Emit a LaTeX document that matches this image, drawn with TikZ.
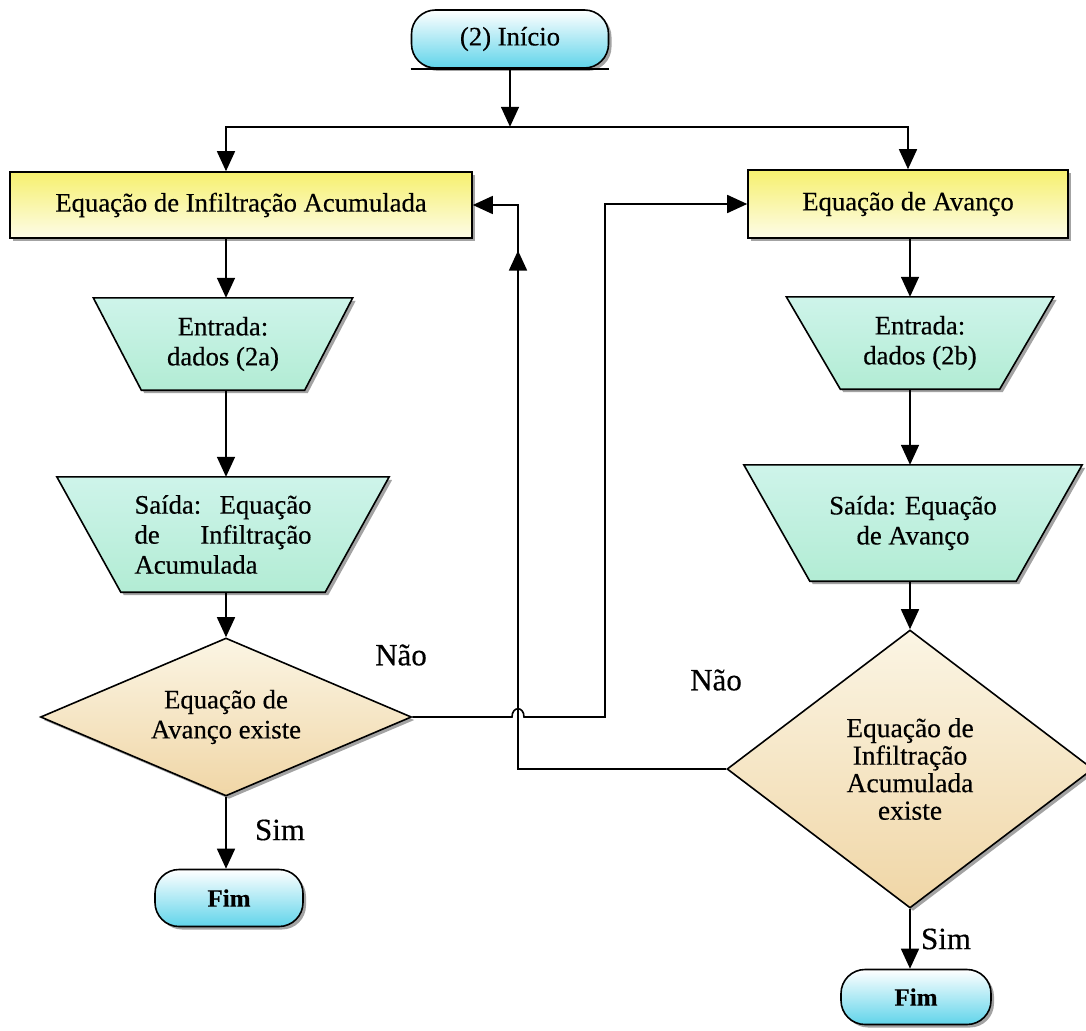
\documentclass[tikz,border=0pt]{standalone}
\usepackage{fontspec}
\setmainfont{Liberation Serif}[FakeBold=0.4]
\usetikzlibrary{arrows.meta,shapes.geometric,shadows,calc,decorations.markings,backgrounds}

\definecolor{termlo}{RGB}{96,212,234}
\definecolor{boxhi}{RGB}{246,240,110}
\definecolor{boxlo}{RGB}{253,252,232}
\definecolor{traphi}{RGB}{206,244,234}
\definecolor{traplo}{RGB}{178,236,212}
\definecolor{diahi}{RGB}{251,245,228}
\definecolor{dialo}{RGB}{240,214,166}
\definecolor{shadowgray}{RGB}{140,140,140}

\tikzset{
  txt/.style={font=\fontsize{26.7}{30}\selectfont},
  outline/.style={draw=black, line width=1.6pt,
    drop shadow={shadow xshift=3pt, shadow yshift=-3pt, fill=shadowgray, opacity=0.8}},
  base/.style={outline, txt, inner sep=0pt},
  terminal/.style={base, rectangle, rounded corners=24pt, top color=white, bottom color=termlo},
  procbox/.style={base, rectangle, top color=boxhi, bottom color=boxlo},
  iotext/.style={txt, rectangle, inner sep=0pt, align=center},
  iofill/.style={outline, top color=traphi, bottom color=traplo},
  decision/.style={base, diamond, top color=diahi, bottom color=dialo, align=center},
  endfont/.style={font=\bfseries\fontsize{25}{28}\selectfont},
  tipshape/.tip={Triangle[length=20pt,width=18pt]},
  flow/.style={line width=1.6pt, -tipshape},
  plain/.style={line width=1.6pt},
  answer/.style={font=\fontsize{31}{34}\selectfont, inner sep=0pt},
}

% inverted trapezium behind a text node: #1 node name, #2 inset of the lower corners
\newcommand{\iotrap}[2]{%
  \begin{pgfonlayer}{background}
    \path[iofill] (#1.north west) -- (#1.north east)
      -- ([xshift=-#2]#1.south east) -- ([xshift=#2]#1.south west) -- cycle;
  \end{pgfonlayer}}

\begin{document}
\begin{tikzpicture}[x=1pt,y=-1pt]
\useasboundingbox (0,0) rectangle (1086,1030);

% start terminal
\node[terminal, minimum width=197pt, minimum height=58pt] (st) at (510,39) {(2) Início};
\draw[plain] (st.south west) -- (st.south east);

% the two process boxes
\node[procbox, minimum width=462pt, minimum height=66pt] (ia) at (241,205) {Equação de Infiltração Acumulada};
\node[procbox, minimum width=320pt, minimum height=68pt] (ra) at (908,204) {Equação de Avanço};

% left column
\node[iotext, minimum width=259pt, minimum height=92pt] (in1) at (223,344) {Entrada:\\dados (2a)};
\iotrap{in1}{48pt}
\node[iotext, minimum width=332pt, minimum height=115pt, text width=177pt, align=left] (out1) at (223,534.5)
      {Saída:\hfill Equação\\de\hfill Infiltração\\Acumulada};
\iotrap{out1}{64pt}
\node[decision, aspect=2.35, minimum width=371pt, minimum height=158pt] (ld) at (226,717) {Equação de\\Avanço existe};
\node[terminal, endfont, minimum width=148pt, minimum height=57pt] (f1) at (229,898) {Fim};

% right column
\node[iotext, minimum width=267pt, minimum height=92pt] (in2) at (920,343) {Entrada:\\dados (2b)};
\iotrap{in2}{54pt}
\node[iotext, minimum width=338pt, minimum height=116pt] (out2) at (913,523) {Saída: Equação\\de Avanço};
\iotrap{out2}{66pt}
\node[decision, aspect=1.32, minimum width=366pt, minimum height=278pt,
      font=\fontsize{27.5}{27.5}\selectfont] (rd) at (910,769) {Equação de\\Infiltração\\Acumulada\\existe};
\node[terminal, endfont, minimum width=150pt, minimum height=55pt] (f2) at (916,997) {Fim};

% branch labels
\node[answer] (no1) at (401,655) {Não};
\node[answer] (no2) at (716,680) {Não};
\node[answer] (yes1) at (280,830) {Sim};
\node[answer] (yes2) at (946,939) {Sim};

% main flow
\coordinate (split) at ($(st.south)+(0,58)$);
\draw[flow] (st.south) -- (split);
\draw[flow] (split) -| (ia.north -| ld.north);
\draw[flow] (split) -| (ra.north);

\draw[flow] (ia.south -| ld.north) -- (in1.north -| ld.north);
\draw[flow] (in1.south -| ld.north) -- (out1.north -| ld.north);
\draw[flow] (out1.south -| ld.north) -- (ld.north);
\draw[flow] (ld.south) -- (f1.north -| ld.south);

\draw[flow] (ra.south -| rd.north) -- (in2.north -| rd.north);
\draw[flow] (in2.south -| rd.north) -- (out2.north -| rd.north);
\draw[flow] (out2.south -| rd.north) -- (rd.north);
\draw[flow] (rd.south) -- (f2.north -| rd.south);

% "Nao" branches, with a hop where they cross
\coordinate (hopL) at (512,717);
\coordinate (hopR) at (524,717);
\coordinate (bendA) at (605,717);
\coordinate (jx) at (518,205);

\draw[flow] (ld.east) -- (hopL)
  .. controls ($(hopL)+(0,-11)$) and ($(hopR)+(0,-11)$) .. (hopR)
  -- (bendA) |- (ra.west);

\draw[flow, decoration={markings, mark=at position 0.889 with {\arrow{tipshape}}},
      postaction={decorate}]
  (rd.west) -| (jx) -- (ia.east);

\end{tikzpicture}
\end{document}
